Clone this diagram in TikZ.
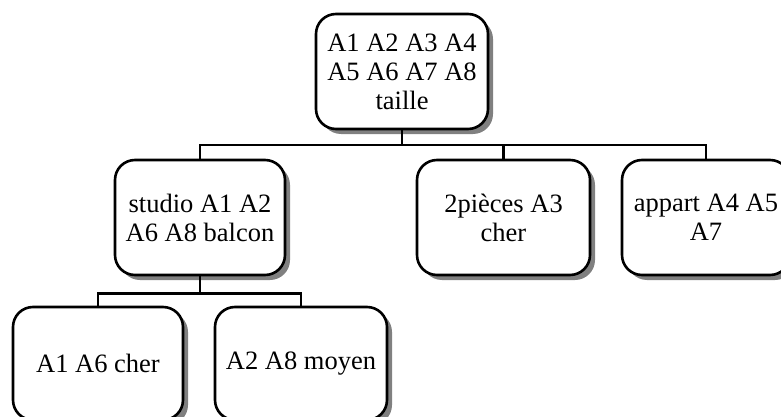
\documentclass[tikz,border=0pt]{standalone}
\usepackage{fontspec}
\setmainfont{Liberation Serif}
\usetikzlibrary{shadows}
\begin{document}
\begin{tikzpicture}[x=1pt,y=-1pt,
  box/.style={draw=black, line width=2.6pt, fill=white, rounded corners=20pt,
    align=center, inner sep=2pt, minimum height=115pt,
    font=\fontsize{26.5}{29}\selectfont,
    drop shadow={shadow xshift=5pt, shadow yshift=-5pt, fill=gray, opacity=1}},
  link/.style={draw=black, line width=2.6pt}]
\useasboundingbox (0,0) rectangle (781,417);
\node[box, minimum width=172pt] (root) at (402,71.5) {A1 A2 A3 A4\\A5 A6 A7 A8\\taille};
\node[box, minimum width=170pt] (studio) at (200,217.5) {studio A1 A2\\A6 A8 balcon};
\node[box, minimum width=173pt] (pieces) at (503.5,217.5) {2pièces A3\\cher};
\node[box, minimum width=168pt] (appart) at (706,217.5) {appart A4 A5\\A7};
\node[box, minimum width=170pt, minimum height=113pt] (cher) at (98,363.5) {A1 A6 cher};
\node[box, minimum width=172pt, minimum height=113pt] (moyen) at (301,363.5) {A2 A8 moyen};
\draw[link] (root.south) -- ++(0,14.5) coordinate (j1);
\draw[link] (studio.north) |- (j1);
\draw[link] (pieces.north) |- (j1);
\draw[link] (appart.north) |- (j1);
\draw[link] (studio.south) -- ++(0,17) coordinate (j2);
\draw[link] (cher.north) |- (j2);
\draw[link] (moyen.north) |- (j2);
\end{tikzpicture}
\end{document}
